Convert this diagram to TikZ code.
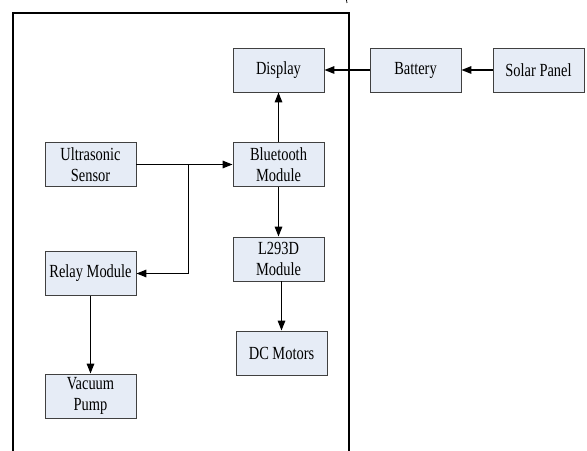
\documentclass[tikz,border=0pt]{standalone}
\usepackage{fontspec}
\setmainfont[FakeStretch=0.78]{Liberation Serif}
\usepackage{tikz}
\usetikzlibrary{arrows.meta,positioning,calc}
\definecolor{boxfill}{HTML}{E6ECF6}
\definecolor{boxline}{HTML}{404040}
\definecolor{ink}{HTML}{000000}
\tikzset{
  block/.style={draw=boxline,fill=boxfill,line width=0.9bp,
                minimum width=91bp,minimum height=44bp,
                align=center,inner sep=2bp,
                font=\fontsize{18.5bp}{21bp}\selectfont},
  flowarr/.style={-{Triangle[length=10bp,width=7.5bp]},line width=1.6bp,color=ink},
  frameline/.style={line width=1.4bp,color=ink}
}

\begin{document}
\begin{tikzpicture}[x=1bp,y=-1bp]
  \useasboundingbox (0,0) rectangle (587,451);
  % ---- enclosure ----
  \draw[frameline] (13,451) -- (13,13) -- (349,13) -- (349,451);
  \draw[line width=0.8bp] (346.5,0) -- (347,3);
  % ---- power chain ----
  \node[block] (disp)  at (278.5,70) {Display};
  \node[block] (batt)  at (415.5,70) {Battery};
  \node[block] (solar) at (538.5,70) {Solar Panel};
  % ---- control blocks ----
  \node[block] (ultra) at (90.5,164.5) {Ultrasonic\\Sensor};
  \node[block] (bt)    at (278.5,164.5) {Bluetooth\\Module};
  \node[block] (relay) at (90.5,273.5) {Relay Module};
  \node[block] (l293)  at (278.5,259) {L293D\\Module};
  \node[block] (vac)   at (90.5,396) {Vacuum\\Pump};
  \node[block] (dcm)   at (281.5,353) {DC Motors};
  % ---- connectors ----
  \draw[flowarr] (solar) -- (batt);
  \draw[flowarr] (batt) -- (disp);
  \fill[ink] (349,70) circle (1.6bp);
  \draw[flowarr] (bt) -- (disp);
  \draw[flowarr] (ultra) -- (bt);
  \coordinate (split) at ($(ultra.east)!0.54!(bt.west)$);
  \draw[flowarr] (split) |- (relay);
  \draw[flowarr] (bt) -- (l293);
  \draw[flowarr] (dcm.north |- l293.south) -- (dcm);
  \draw[flowarr] (relay) -- (vac);
\end{tikzpicture}
\end{document}
